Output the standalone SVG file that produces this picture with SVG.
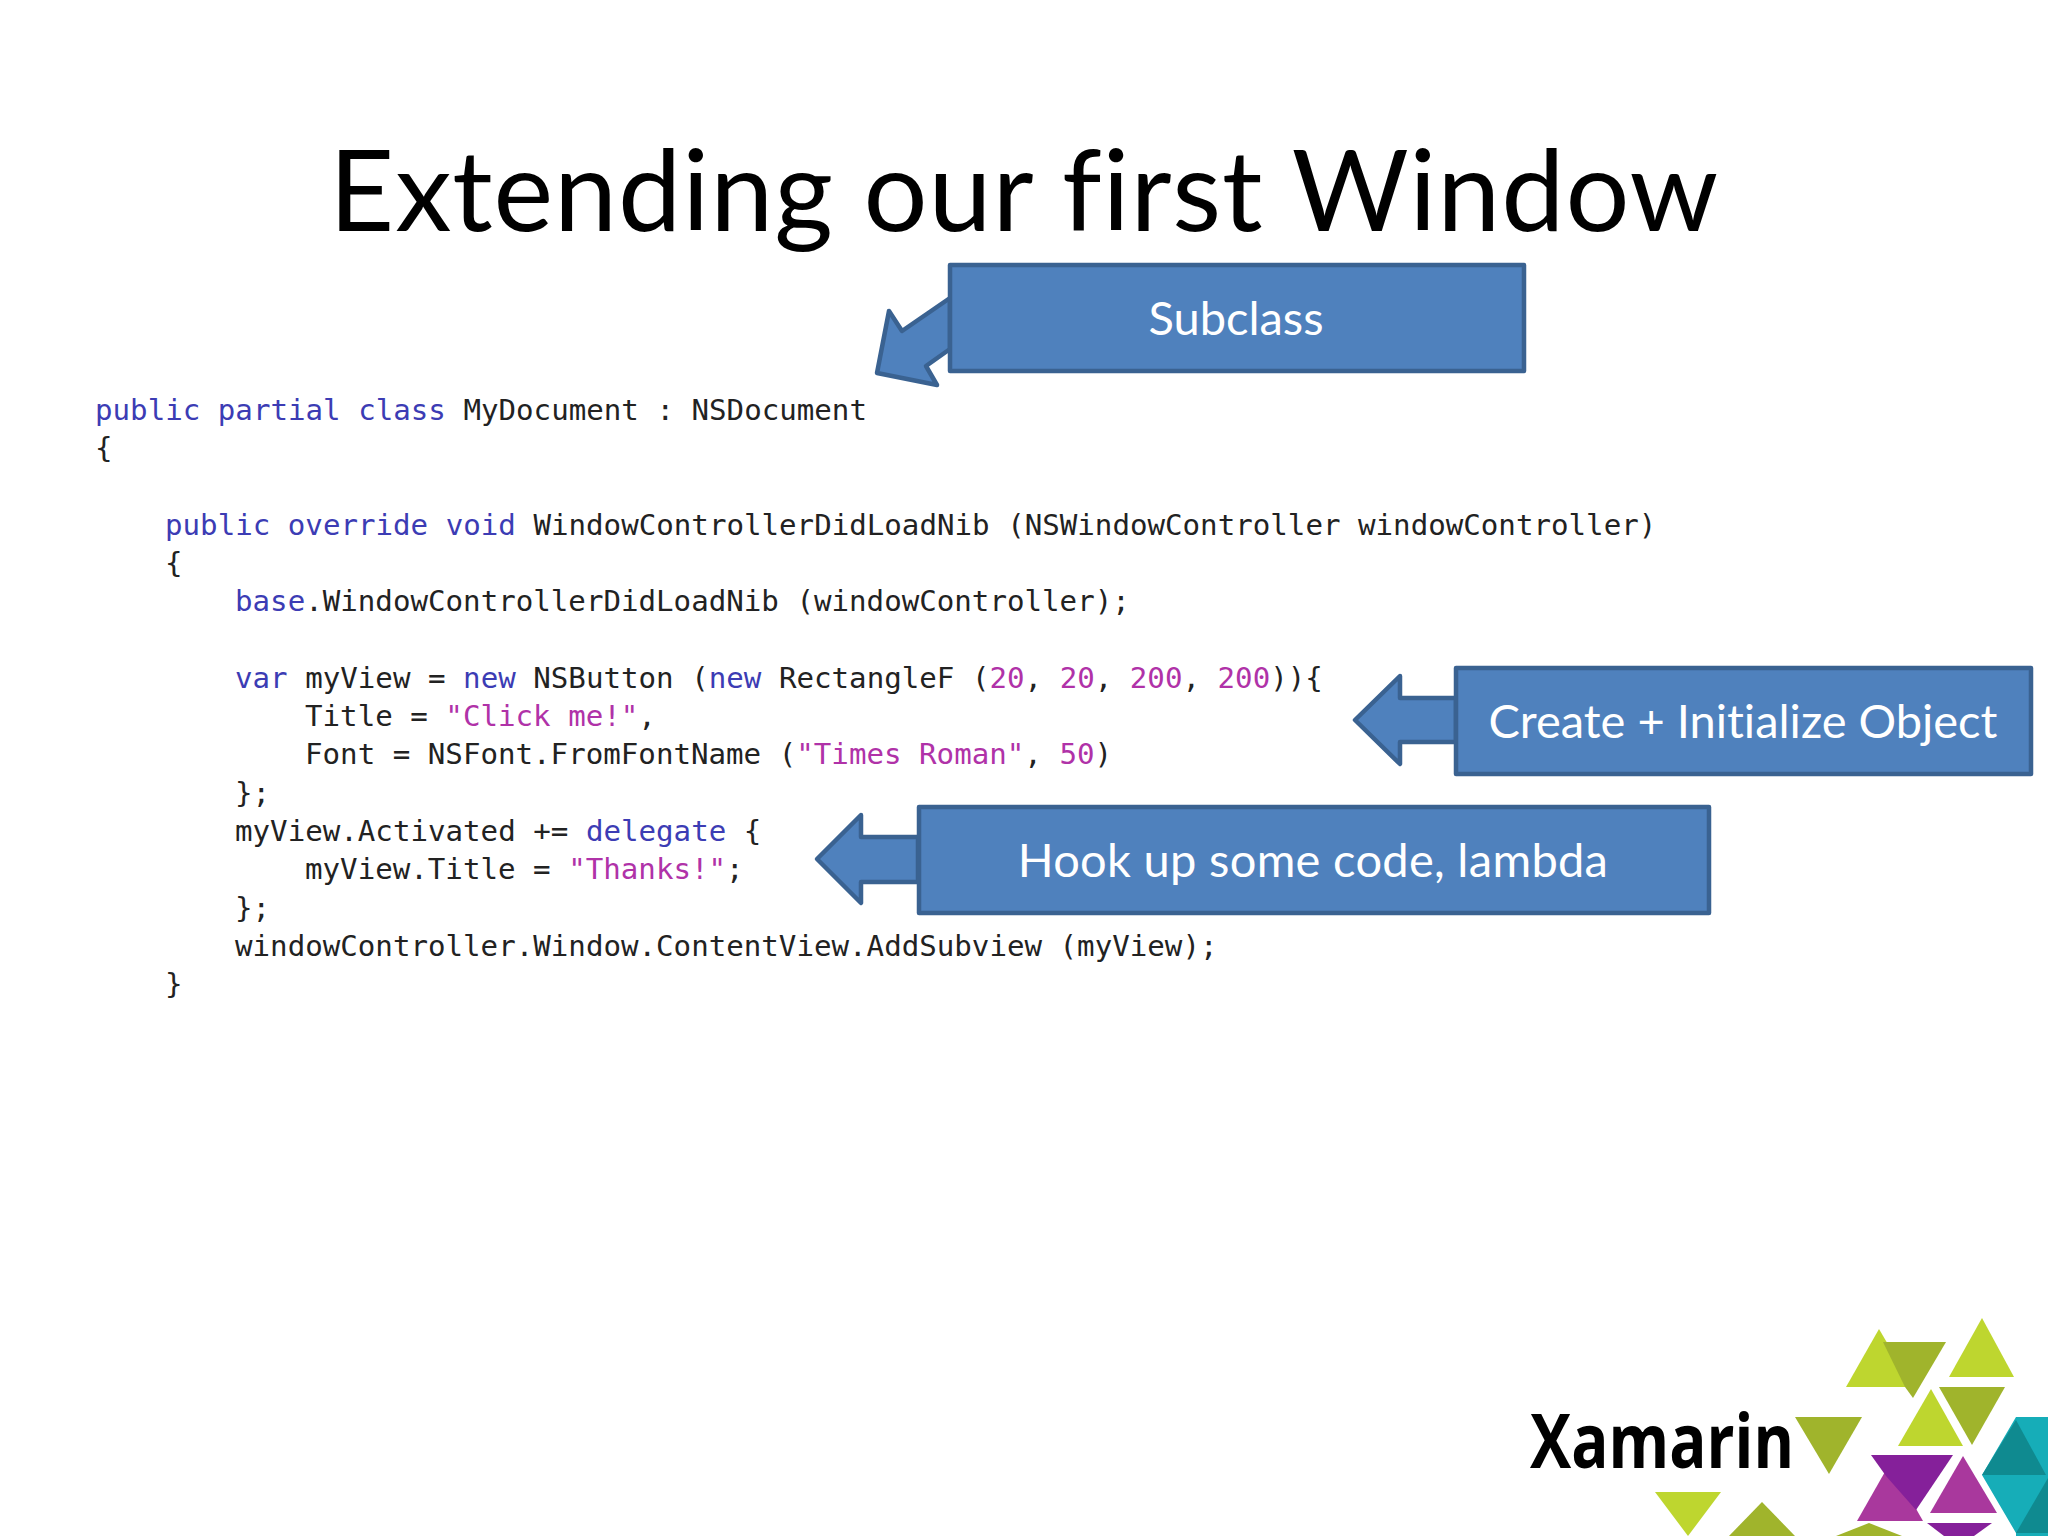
<svg xmlns="http://www.w3.org/2000/svg" width="2048" height="1536" viewBox="0 0 2048 1536">
<style>
.title{font-family:"Lato","Open Sans",sans-serif;font-size:113px;fill:#000;letter-spacing:.9px;font-variant-ligatures:none}
.code{font-family:"DejaVu Sans Mono","Liberation Mono",monospace;font-size:29.15px;fill:#222;white-space:pre}
.k{fill:#3c3cb4}
.s{fill:#b032a8}
.box{fill:#4f81bd;stroke:#3a6291;stroke-width:4.5;stroke-linejoin:round}
.lbl{font-family:"Lato","Open Sans",sans-serif;font-size:47px;fill:#fff;text-anchor:middle;font-variant-ligatures:none}
.lime{fill:#bed62f}.olive{fill:#a0b42c}.mag{fill:#a9389d}.pur{fill:#85209a}.teal{fill:#16adb8}.dteal{fill:#0f8a90}
</style>
<rect width="2048" height="1536" fill="#fff"/>
<text id="title" class="title" x="329" y="231">Extending our first Window</text>
<g id="code" class="code">
<text x="95" y="420"><tspan class="k">public partial class</tspan> MyDocument : NSDocument</text>
<text x="95" y="458">{</text>
<text x="165" y="535"><tspan class="k">public override void</tspan> WindowControllerDidLoadNib (NSWindowController windowController)</text>
<text x="165" y="573">{</text>
<text x="235" y="611"><tspan class="k">base</tspan>.WindowControllerDidLoadNib (windowController);</text>
<text x="235" y="688"><tspan class="k">var</tspan> myView = <tspan class="k">new</tspan> NSButton (<tspan class="k">new</tspan> RectangleF (<tspan class="s">20</tspan>, <tspan class="s">20</tspan>, <tspan class="s">200</tspan>, <tspan class="s">200</tspan>)){</text>
<text x="305" y="726">Title = <tspan class="s">"Click me!"</tspan>,</text>
<text x="305" y="764">Font = NSFont.FromFontName (<tspan class="s">"Times Roman"</tspan>, <tspan class="s">50</tspan>)</text>
<text x="235" y="803">};</text>
<text x="235" y="841">myView.Activated += <tspan class="k">delegate</tspan> {</text>
<text x="305" y="879">myView.Title = <tspan class="s">"Thanks!"</tspan>;</text>
<text x="235" y="918">};</text>
<text x="235" y="956">windowController.Window.ContentView.AddSubview (myView);</text>
<text x="165" y="994">}</text>
</g>
<g id="connectors">
<polygon class="box" points="950,298 902,331 889,311 877,373 937,385 926,366 950,349"/>
<polygon class="box" points="1456,698 1400,698 1400,676 1355,720 1400,764 1400,742 1456,742"/>
<polygon class="box" points="918,837 861,837 861,815 817,859 861,903 861,882 918,882"/>
</g>
<g id="node-subclass">
<rect class="box" x="950" y="265" width="574" height="106"/>
<text class="lbl" x="1236" y="335">Subclass</text>
</g>
<g id="node-create">
<rect class="box" x="1456" y="668" width="575" height="106"/>
<text class="lbl" x="1743" y="738">Create + Initialize Object</text>
</g>
<g id="node-hook">
<rect class="box" x="919" y="807" width="790" height="106"/>
<text class="lbl" x="1313" y="877" letter-spacing=".3">Hook up some code, lambda</text>
</g>
<g id="logo">
<text x="1530" y="1468" font-family="Open Sans, sans-serif" font-weight="700" font-size="75" textLength="264" lengthAdjust="spacingAndGlyphs" fill="#000">Xamarin</text>
<polygon class="lime" points="1879,1329 1846,1387 1913,1387"/>
<polygon class="olive" points="1883,1342 1946,1342 1913,1398 1905,1387"/>
<polygon class="lime" points="1982,1318 1949,1377 2014,1377"/>
<polygon class="lime" points="1931,1389 1898,1446 1963,1446"/>
<polygon class="olive" points="1939,1387 2005,1387 1972,1445"/>
<polygon class="olive" points="1795,1417 1862,1417 1829,1474"/>
<polygon class="lime" points="1655,1492 1721,1492 1688,1536"/>
<polygon class="olive" points="1762,1502 1729,1536 1795,1536"/>
<polygon class="olive" points="1869,1523 1836,1536 1902,1536"/>
<polygon class="mag" points="1890,1463 1857,1521 1923,1521"/>
<polygon class="pur" points="1871,1455 1953,1455 1916,1510 1886,1476"/>
<polygon class="mag" points="1963,1456 1930,1513 1997,1513"/>
<polygon class="pur" points="1927,1523 1992,1523 1974,1536 1944,1536"/>
<polygon class="teal" points="2016,1417 2048,1417 2048,1536 2016,1536 2016,1533 1982,1475"/>
<polygon class="dteal" points="2016,1420 1982,1475 2046,1475"/>
<polygon class="dteal" points="2016,1533 2048,1478 2048,1533"/>
</g>
</svg>
